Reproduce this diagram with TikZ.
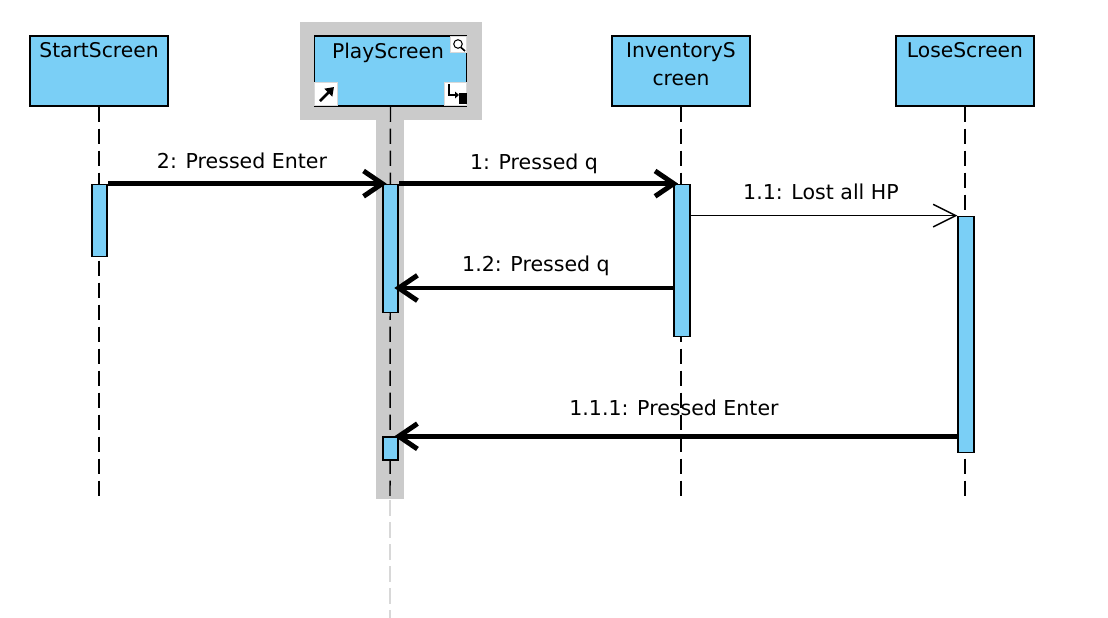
\documentclass[tikz,border=0pt]{standalone}
\usepackage{fontspec}
\setmainfont{DejaVu Sans}
\usepackage{xcolor}
\definecolor{screenblue}{HTML}{7ACFF6}
\definecolor{selectgray}{HTML}{CBCBCB}
\definecolor{ghostgray}{HTML}{D8D8D8}
\usetikzlibrary{positioning, arrows.meta, calc}
\tikzset{
    screen/.style = {rectangle, draw=black, fill=screenblue, line width=1.3pt,
                     minimum width=103pt, minimum height=52pt, inner sep=0pt},
    screentext/.style = {anchor=north, align=center, inner sep=0pt, yshift=-5pt,
                         font=\fontsize{15.2}{21}\selectfont},
    activation/.style = {rectangle, draw=black, fill=screenblue, line width=1.3pt,
                         minimum width=11.5pt, inner sep=0pt},
    lifeline/.style = {line width=1.1pt, dash pattern=on 11.5pt off 5pt},
    ghostline/.style = {line width=1.1pt, color=ghostgray, dash pattern=on 12pt off 4.5pt},
    callarrow/.style = {-{Straight Barb[length=14pt, width=19pt, line width=3.7pt]}, line width=3.7pt, shorten >=-3.5pt},
    thinarrow/.style = {-{Straight Barb[length=17pt, width=17pt, line width=1.1pt]}, line width=1.1pt},
    message/.style = {inner sep=0pt, font=\fontsize{15.4}{18}\selectfont},
    handle/.style = {rectangle, fill=white, draw=black!15, line width=0.6pt, inner sep=0pt},
}
\begin{document}
\begin{tikzpicture}[x=0.75pt, y=-0.75pt]
    \useasboundingbox (0,0) rectangle (1108,618);
    % selection around PlayScreen
    \fill[selectgray] (300,22) rectangle (482,120);
    \fill[selectgray] (376,120) rectangle (404,499);
    % screens
    \node[screen] (start) at (99,71) {};
    \node[screen, minimum width=114pt] (play) at (390.5,71) {};
    \node[screen] (inv) at (681,71) {};
    \node[screen] (lose) at (965,71) {};
    \node[screentext] (startText) at (start.north) {StartScreen};
    \node[screentext] (playText) at (388,36) {PlayScreen};
    \node[screentext] (invText) at (inv.north) {InventoryS\\creen};
    \node[screentext] (loseText) at (lose.north) {LoseScreen};
    % lifeline ends
    \coordinate (startEnd) at (99,496);
    \coordinate (playEnd) at (390,496);
    \coordinate (invEnd) at (681,496);
    \coordinate (loseEnd) at (965,496);
    \coordinate (ghostStart) at (390,500);
    \coordinate (ghostEnd) at (390,618);
    \draw[lifeline] (start.south) -- (startEnd);
    \draw[lifeline] (play.south) -- (playEnd);
    \draw[lifeline] (inv.south) -- (invEnd);
    \draw[lifeline] (lose.south) -- (loseEnd);
    \draw[ghostline] (ghostStart) -- (ghostEnd);
    % activations
    \node[activation, minimum height=54pt] (actStart) at (99.5,220.5) {};
    \node[activation, minimum height=96pt] (actPlay) at (390.5,248.5) {};
    \node[activation, minimum height=17pt] (actPlayB) at (390.5,448.5) {};
    \node[activation, minimum height=114pt] (actInv) at (682,260.5) {};
    \node[activation, minimum height=177pt] (actLose) at (966,334.5) {};
    % messages
    \coordinate (backY) at (0,288);
    \draw[callarrow] (actStart.north east) -- (actPlay.north west);
    \draw[callarrow] (actPlay.north east) -- (actInv.north west);
    \draw[thinarrow] (actInv.east |- actLose.north) -- (actLose.north west);
    \draw[callarrow] (actInv.west |- backY) -- (actPlay.east |- backY);
    \draw[callarrow] (actLose.west |- actPlayB.north) -- (actPlayB.north east);
    \node[message] (msgEnter) at (242,161) {2: Pressed Enter};
    \node[message] (msgQ) at (534,164) {1: Pressed q};
    \node[message] (msgLost) at (821,192) {1.1: Lost all HP};
    \node[message] (msgBack) at (536,266) {1.2: Pressed q};
    \node[message] (msgReturn) at (674,408) {1.1.1: Pressed Enter};
    % handles on PlayScreen
    \node[handle, minimum width=12.5pt, minimum height=12.5pt] (zoomHandle) at (458.5,44.5) {};
    \node[handle, minimum width=17.5pt, minimum height=17.5pt] (linkHandle) at (326,94) {};
    \node[handle, minimum width=17pt, minimum height=17.5pt] (resizeHandle) at (455.5,94) {};
    \draw[line width=0.8pt] (458,44) circle (3.2pt);
    \draw[line width=1.2pt] (461,47.5) -- (465,51);
    \draw[-{Triangle[length=6pt, width=8pt]}, line width=2pt] (320,101) -- (334,87);
    \draw[-{Triangle[length=3pt, width=5pt]}, line width=1pt] (449,84) -- (449,95) -- (459,95);
    \fill (459,93) rectangle (467,104);
\end{tikzpicture}
\end{document}
